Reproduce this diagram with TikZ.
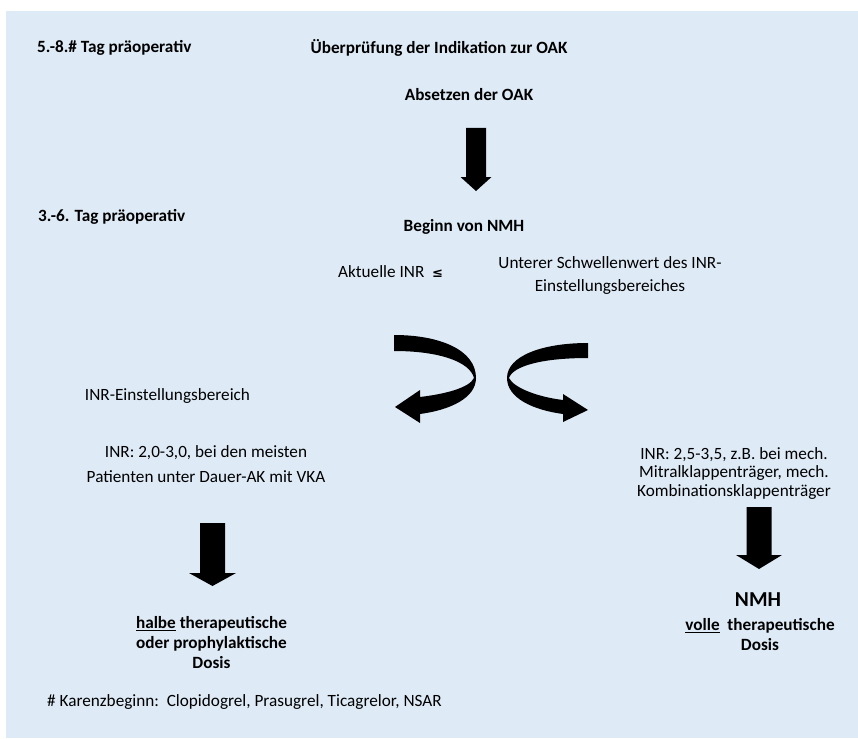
\documentclass[tikz,border=0pt]{standalone}
\usepackage{fontspec}
\setmainfont{Carlito}
\newfontfamily\symfont{DejaVu Sans}
\usetikzlibrary{calc}
\definecolor{bgblue}{HTML}{DEEBF7}
% straight block arrow: start, tip, shaft half width, head half width, head length
\newcommand{\blockarrow}[5]{%
  \fill ($(#1)+(-#3,0)$) -- ($(#2)+(-#3,-#5)$) -- ($(#2)+(-#4,-#5)$) -- (#2)
    -- ($(#2)+(#4,-#5)$) -- ($(#2)+(#3,-#5)$) -- ($(#1)+(#3,0)$) -- cycle;}

\begin{document}
\begin{tikzpicture}[x=1pt,y=-1pt]
\tikzset{
  txt/.style={font=\fontsize{17.2}{20}\selectfont, inner sep=0pt, align=center},
  btxt/.style={txt, font=\bfseries\fontsize{17.2}{20}\selectfont},
}
\useasboundingbox (0,0) rectangle (858,738);
\fill[bgblue] (6,11) rectangle (858,738);

% days
\node[btxt, anchor=mid west] (day1) at (37,50) {5.-8.\# Tag präoperativ};
\node[btxt, anchor=mid west] (day2) at (38,219) {3.-6. Tag präoperativ};

% top column
\node[btxt, anchor=mid] (check) at (439,51) {Überprüfung der Indikation zur OAK};
\node[btxt, anchor=mid] (stop) at (469,98) {Absetzen der OAK};
\node[btxt, anchor=mid] (begin) at (464,229) {Beginn von NMH};
\node[txt, anchor=mid west] (inr) at (338,275) {Aktuelle INR\ \ {\symfont\bfseries\fontsize{13}{15}\selectfont ≤}};
\node[txt, font=\fontsize{17.2}{23}\selectfont] (thresh) at (610,275.5)
  {Unterer Schwellenwert des INR-\\Einstellungsbereiches};

\coordinate (a1s) at (476,128);
\coordinate (a1e) at (476,191);
\blockarrow{a1s}{a1e}{10}{15.5}{14}

% curved arrows
\fill (394,335) .. controls (440,335) and (476,350) .. (476,378)
  .. controls (476,398) and (450,410) .. (420,414)
  -- (420,423) -- (395,407) -- (420,390) -- (420,397)
  .. controls (445,394) and (469,388) .. (474,378)
  .. controls (470,362) and (440,351) .. (394,351) -- cycle;
\fill (588,343) .. controls (542,343) and (507,356) .. (507,378)
  .. controls (507,398) and (533,410) .. (563,414)
  -- (563,422) -- (588,410) -- (563,394) -- (563,400)
  .. controls (538,397) and (514,388) .. (509,378)
  .. controls (513,366) and (542,358) .. (588,358) -- cycle;

% left branch
\node[txt, anchor=mid] (range) at (167.5,398) {INR-Einstellungsbereich};
\node[txt, font=\fontsize{17.2}{25}\selectfont] (std) at (206,464.5)
  {INR: 2,0-3,0, bei den meisten\\Patienten unter Dauer-AK mit VKA};
\coordinate (a2s) at (212.5,523);
\coordinate (a2e) at (212.5,586);
\blockarrow{a2s}{a2e}{12.5}{23.5}{13}
\node[btxt] (half) at (211.5,643)
  {\underline{halbe} therapeutische\\oder prophylaktische\\Dosis};

% right branch
\node[txt, font=\fontsize{17.2}{18.5}\selectfont] (mech) at (734,473.5)
  {INR: 2,5-3,5, z.B. bei mech.\\Mitralklappenträger, mech.\\Kombinationsklappenträger};
\coordinate (a3s) at (759,507);
\coordinate (a3e) at (759,569);
\blockarrow{a3s}{a3e}{12.5}{23}{14}
\node[btxt, font=\bfseries\fontsize{21.3}{24}\selectfont, anchor=mid] (nmh) at (758,604) {NMH};
\node[btxt] (full) at (760,635) {\underline{volle}\ \ therapeutische\\Dosis};

% footnote
\node[txt, anchor=mid west] (note) at (47,704)
  {\# Karenzbeginn:\ \ Clopidogrel, Prasugrel, Ticagrelor, NSAR};
\end{tikzpicture}
\end{document}
